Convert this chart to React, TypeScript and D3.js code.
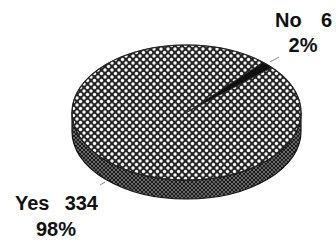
import * as d3 from "d3";

const categories = ["No", "Yes"];
const counts = [6, 334];
const percents = ["2%", "98%"];

const W = 336, H = 244;
const cx = 186.5, cy = 112.5, rx = 114.5, ry = 67.5, depth = 19;

function pt(a: number, dy = 0): [number, number] {
  const t = a - Math.PI / 2;
  return [cx + rx * Math.cos(t), cy + dy + ry * Math.sin(t)];
}

function slicePath(a0: number, a1: number) {
  const p0 = pt(a0), p1 = pt(a1);
  const large = a1 - a0 > Math.PI ? 1 : 0;
  return `M${cx},${cy}L${p0[0]},${p0[1]}A${rx},${ry} 0 ${large} 1 ${p1[0]},${p1[1]}Z`;
}

function sidePath() {
  return `M${cx + rx},${cy}A${rx},${ry} 0 0 1 ${cx - rx},${cy}L${cx - rx},${cy + depth}A${rx},${ry} 0 0 0 ${cx + rx},${cy + depth}Z`;
}

export default function App() {
  const start = (41.9 * Math.PI) / 180;
  const pie = d3.pie<number>().sort(null).startAngle(start).endAngle(start + 2 * Math.PI);
  const arcs = pie(counts);
  const font = "'Liberation Sans', Arial, sans-serif";

  return (
    <svg width={W} height={H} style={{ position: "absolute", left: 0, top: 0, background: "#fff" }}>
      <defs>
        <pattern id="hatch" width={7} height={7} patternUnits="userSpaceOnUse">
          <rect width={7} height={7} fill="#262626" />
          <circle cx={0} cy={0} r={1.7} fill="#fafafa" />
          <circle cx={7} cy={0} r={1.7} fill="#fafafa" />
          <circle cx={0} cy={7} r={1.7} fill="#fafafa" />
          <circle cx={7} cy={7} r={1.7} fill="#fafafa" />
          <circle cx={3.5} cy={3.5} r={1.7} fill="#fafafa" />
        </pattern>
        <pattern id="hatchDark" width={4} height={4} patternUnits="userSpaceOnUse">
          <rect width={4} height={4} fill="#1c1c1c" />
          <circle cx={0} cy={0} r={0.9} fill="#8a8a8a" />
          <circle cx={4} cy={0} r={0.9} fill="#8a8a8a" />
          <circle cx={0} cy={4} r={0.9} fill="#8a8a8a" />
          <circle cx={4} cy={4} r={0.9} fill="#8a8a8a" />
          <circle cx={2} cy={2} r={0.9} fill="#8a8a8a" />
        </pattern>
      </defs>
      <path d={sidePath()} fill="url(#hatchDark)" stroke="#111" strokeWidth={1.2} />
      {arcs.map((a, i) => (
        <path
          key={categories[i]}
          d={slicePath(a.startAngle, a.endAngle)}
          fill={categories[i] === "No" ? "#111" : "url(#hatch)"}
          stroke="#222"
          strokeWidth={0.8}
        />
      ))}
      <ellipse cx={cx} cy={cy} rx={rx} ry={ry} fill="none" stroke="#222" strokeWidth={1.2} />
      <line x1={270} y1={62} x2={279} y2={57} stroke="#888" strokeWidth={1} />
      <line x1={100} y1={185} x2={105} y2={182} stroke="#888" strokeWidth={1} />
      <g fontFamily={font} fontWeight="bold" fontSize={20} fill="#111">
        <text x={275} y={27}>{categories[0]}</text>
        <text x={332} y={27} textAnchor="end">{counts[0]}</text>
        <text x={303} y={52} textAnchor="middle">{percents[0]}</text>
        <text x={15} y={210}>{categories[1]}</text>
        <text x={98} y={210} textAnchor="end">{counts[1]}</text>
        <text x={56} y={236} textAnchor="middle">{percents[1]}</text>
      </g>
    </svg>
  );
}
